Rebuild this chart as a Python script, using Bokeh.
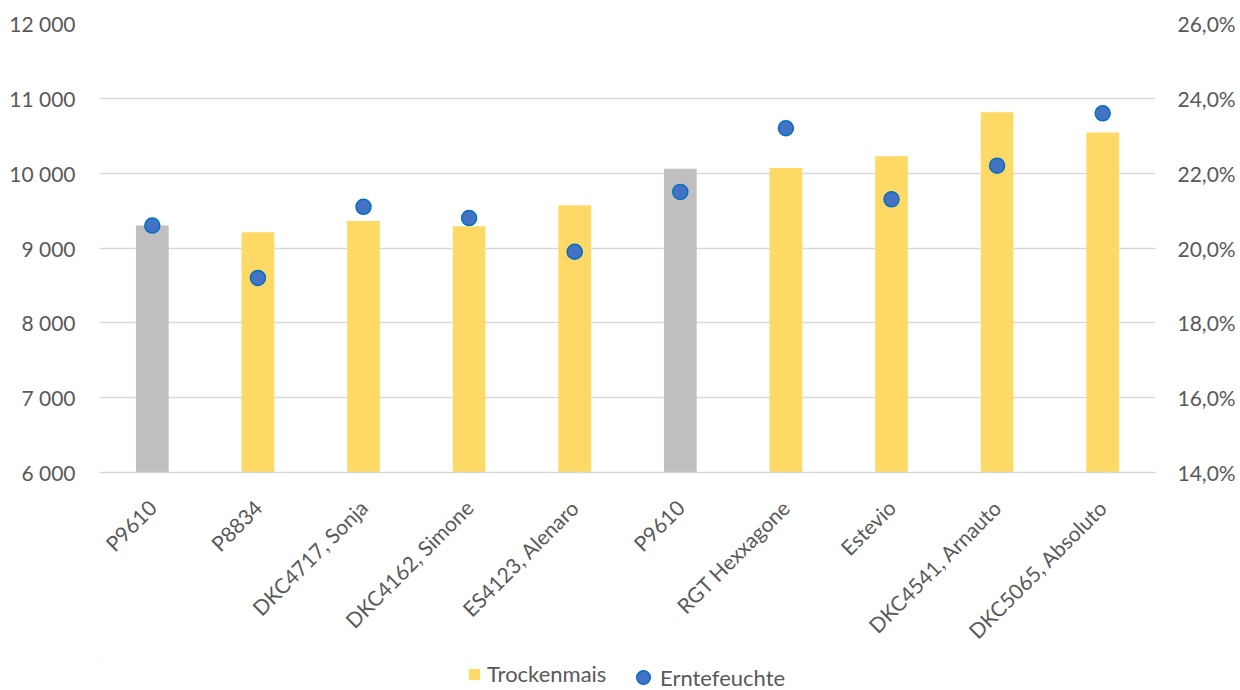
from bokeh.plotting import figure
from bokeh.models import (Range1d, LinearAxis, FixedTicker, Legend, LegendItem,
                          ColumnDataSource)
from bokeh.layouts import column
from bokeh.embed import file_html
from bokeh.resources import INLINE
import math

# ---- data ----
sorten = ["P9610", "P8834", "DKC4717, Sonja", "DKC4162, Simone", "ES4123, Alenaro",
          "P9610", "RGT Hexxagone", "Estevio", "DKC4541, Arnauto", "DKC5065, Absoluto"]
trockenmais = [9300, 9210, 9360, 9290, 9570, 10060, 10070, 10225, 10815, 10545]
erntefeuchte = [20.6, 19.2, 21.1, 20.8, 19.9, 21.5, 23.2, 21.3, 22.2, 23.6]
referenz = "P9610"

left_ticks = [6000, 7000, 8000, 9000, 10000, 11000, 12000]
left_labels = ["6 000", "7 000", "8 000", "9 000", "10 000", "11 000", "12 000"]
right_ticks = [14, 16, 18, 20, 22, 24, 26]
right_labels = ["14,0%", "16,0%", "18,0%", "20,0%", "22,0%", "24,0%", "26,0%"]
legend_labels = ["Trockenmais", "Erntefeuchte"]

# ---- styles ----
YELLOW = "#FFD966"
GRAY = "#BFBFBF"
DOT_FILL = "#4472C4"
DOT_LINE = "#0070C0"
TXT = "#595959"
GRID = "#D9D9D9"
FONT = "Lato"
FS = "21px"
FS_LEG = "22px"

n = len(sorten)
xs = [i + 0.5 for i in range(n)]
colors = [GRAY if s == referenz else YELLOW for s in sorten]

src = ColumnDataSource(dict(x=xs, top=trockenmais, pct=erntefeuchte, color=colors,
                            bottom=[left_ticks[0]] * n))

p = figure(width=1240, height=660, x_range=Range1d(0, n),
           y_range=Range1d(left_ticks[0], left_ticks[-1]),
           output_backend="svg", toolbar_location=None,
           min_border_left=99, min_border_right=85, min_border_top=23,
           min_border_bottom=188)
p.outline_line_color = None
p.background_fill_color = "white"
p.border_fill_color = "white"

p.extra_y_ranges = {"pct": Range1d(right_ticks[0], right_ticks[-1])}

bars = p.vbar(x="x", top="top", bottom="bottom", width=0.31, fill_color="color",
              line_color=None, source=src)
dots = p.scatter(x="x", y="pct", y_range_name="pct", size=15, fill_color=DOT_FILL,
                 line_color=DOT_LINE, line_width=1.5, source=src)


def style_axis(ax, standoff):
    ax.major_tick_line_color = None
    ax.minor_tick_line_color = None
    ax.major_tick_out = 0
    ax.major_tick_in = 0
    ax.minor_tick_out = 0
    ax.minor_tick_in = 0
    ax.major_label_text_font = FONT
    ax.major_label_text_font_size = FS
    ax.major_label_text_color = TXT
    ax.major_label_standoff = standoff


# x axis
xa = p.xaxis[0]
xa.ticker = FixedTicker(ticks=xs)
xa.major_label_overrides = {x: s for x, s in zip(xs, sorten)}
xa.major_label_orientation = math.pi / 4
xa.axis_line_color = GRID
xa.axis_line_width = 1.3
style_axis(xa, 31)

# left axis
ya = p.yaxis[0]
ya.ticker = FixedTicker(ticks=left_ticks)
ya.major_label_overrides = {t: l for t, l in zip(left_ticks, left_labels)}
ya.axis_line_color = None
style_axis(ya, 24)

# right axis
ra = LinearAxis(y_range_name="pct", ticker=FixedTicker(ticks=right_ticks))
ra.major_label_overrides = {t: l for t, l in zip(right_ticks, right_labels)}
ra.axis_line_color = None
style_axis(ra, 22)
p.add_layout(ra, "right")

p.xgrid.grid_line_color = None
p.ygrid.ticker = FixedTicker(ticks=left_ticks)
p.ygrid.grid_line_color = GRID
p.ygrid.grid_line_width = 1.3

# ---- legend strip (separate figure below; its renderers lie outside its view) ----
lf = figure(width=1224, height=30, x_range=Range1d(100, 101), y_range=Range1d(100, 101),
            x_axis_type=None, y_axis_type=None,
            output_backend="svg", toolbar_location=None,
            min_border_left=0, min_border_right=0, min_border_top=0, min_border_bottom=0)
lf.grid.visible = False
lf.outline_line_color = None
lf_bar = lf.vbar(x="x", top="top", bottom="bottom", width=0.3, fill_color=YELLOW,
                 line_color=None, source=src)
lf_dot = lf.scatter(x="x", y="pct", size=15, fill_color=DOT_FILL, line_color=DOT_LINE,
                    line_width=1.5, source=src)

common = dict(orientation="horizontal", border_line_color=None, background_fill_alpha=0,
              label_text_font=FONT, label_text_font_size=FS_LEG, label_text_color=TXT,
              padding=0, margin=0, label_height=20)
leg1 = Legend(items=[LegendItem(label=legend_labels[0], renderers=[lf_bar])],
              location=(368, 3), glyph_width=14, glyph_height=14, label_standoff=6,
              **common)
leg2 = Legend(items=[LegendItem(label=legend_labels[1], renderers=[lf_dot])],
              location=(527, -4), glyph_width=34, glyph_height=34, label_standoff=0,
              **common)
lf.add_layout(leg1, "center")
lf.add_layout(leg2, "center")

open("out.html", "w").write(file_html(column(p, lf), INLINE))
